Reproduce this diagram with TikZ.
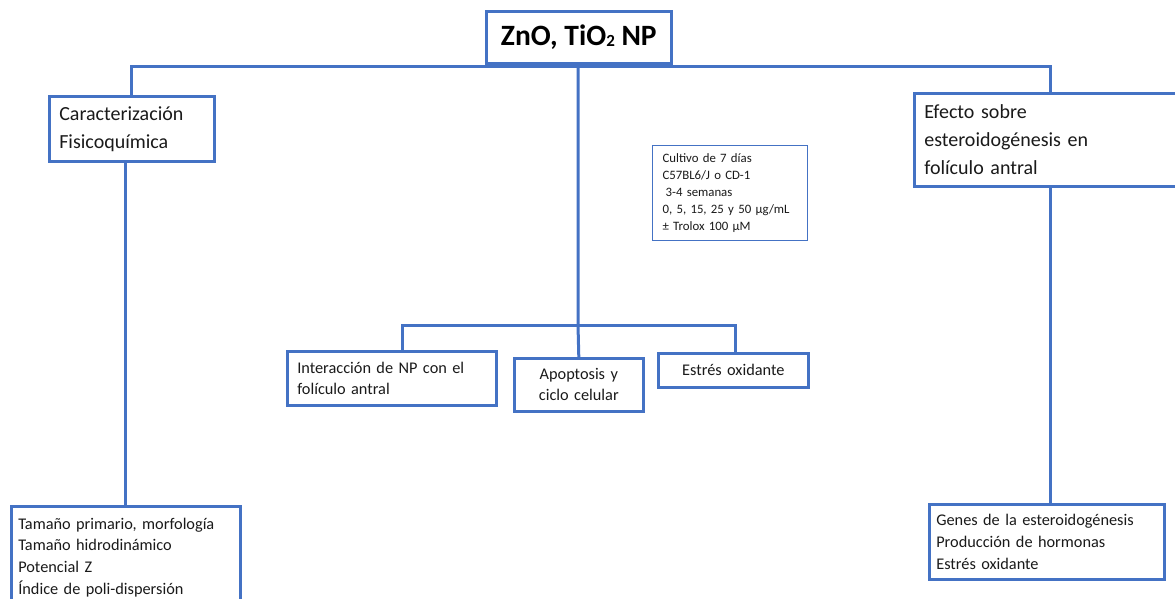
\documentclass[tikz,border=0pt]{standalone}
\usepackage{fontspec}
\setmainfont{Carlito}
\usetikzlibrary{positioning}

\definecolor{boxblue}{HTML}{4472C4}
\definecolor{txtgray}{HTML}{1A1A1A}

\tikzset{
    link/.style={draw=boxblue, line width=3pt},
    box/.style={draw=boxblue, line width=2.6pt, fill=white, anchor=north west,
        align=left, inner xsep=10pt, inner ysep=0pt, text=txtgray},
    bigbox/.style={box, font=\fontsize{20}{28}\selectfont},
    listbox/.style={box, font=\fontsize{16.3}{21.6}\selectfont, inner xsep=7pt},
    infobox/.style={box, line width=1.2pt, inner xsep=10pt, font=\fontsize{12.8}{17.2}\selectfont}
}

\begin{document}
\begin{tikzpicture}[x=1pt, y=-1pt]
    \useasboundingbox (0,0) rectangle (1175,599);

    % Title
    \node[box, align=center, inner xsep=0pt, minimum width=185pt, minimum height=52pt,
        font=\fontsize{29.5}{33}\selectfont\bfseries, text=black] (title) at (485,10)
        {ZnO, TiO\raisebox{-1pt}{\fontsize{17}{17}\selectfont 2} NP};

    % First level
    \node[bigbox, text width=145pt, minimum height=65pt] (fisico) at (48,95)
        {Caracterización\\Fisicoquímica};
    \node[bigbox, text width=252pt, minimum height=93pt] (efecto) at (913,92)
        {Efecto sobre\\esteroidogénesis en\\folículo antral};

    % Culture conditions
    \node[infobox, text width=135pt, minimum height=95pt] (cultivo) at (652,145)
        {Cultivo de 7 días\\C57BL6/J o CD-1\\\hspace{3pt}3-4 semanas\\0, 5, 15, 25 y 50 µg/mL\\± Trolox 100 µM};

    % Middle branch
    \node[box, font=\fontsize{16.3}{21}\selectfont, text width=189pt, minimum height=54pt] (interaccion) at (286,350)
        {Interacción de NP con el\\folículo antral};
    \node[box, font=\fontsize{16.3}{21}\selectfont, align=center, inner xsep=0pt,
        text width=129pt, minimum height=53pt] (apoptosis) at (513,357)
        {Apoptosis y\\ciclo celular};
    \node[box, font=\fontsize{16.3}{21}\selectfont, align=center, inner xsep=0pt,
        text width=150pt, minimum height=34pt] (estres) at (657,352)
        {Estrés oxidante};

    % Bottom lists
    \node[listbox, text width=215pt, minimum height=102pt] (tamano) at (10,505)
        {Tamaño primario, morfología\\Tamaño hidrodinámico\\Potencial Z\\Índice de poli-dispersión};
    \node[listbox, text width=221pt, minimum height=75pt] (genes) at (928,503)
        {Genes de la esteroidogénesis\\Producción de hormonas\\Estrés oxidante};

    % Connectors
    \coordinate (jtop) at (578,67);
    \coordinate (jmid) at (578,325);
    \coordinate (efetop) at (1050,92);
    \coordinate (efebot) at (1050,185);
    \coordinate (intertop) at (402,350);
    \coordinate (estrestop) at (735,352);

    \draw[link] (title.south) -- (jtop) -- (jmid);
    \draw[link] (fisico.north) |- (jtop) -| (efetop);
    \draw[link] (intertop) |- (jmid) -| (estrestop);
    \draw[link] (jmid) -- (apoptosis.north);
    \draw[link] ([xshift=-6pt]fisico.south) -- ([xshift=-6pt]fisico.south |- tamano.north);
    \draw[link] (efebot) -- (efebot |- genes.north);
\end{tikzpicture}
\end{document}
